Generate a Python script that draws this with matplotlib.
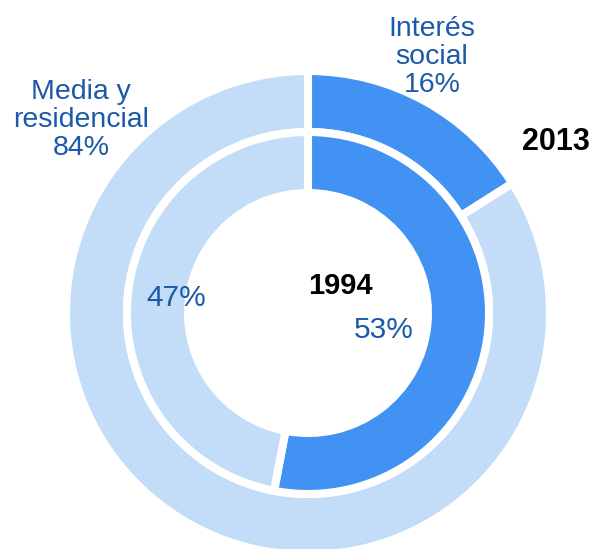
import matplotlib.pyplot as plt

plt.rcParams['font.family'] = ['Liberation Sans', 'DejaVu Sans']

# data
categories = ["Interés social", "Media y residencial"]
share_2013 = [16, 84]
share_1994 = [53, 47]
years = ["2013", "1994"]

dark = "#4192F2"
light = "#C3DCF8"
txt = "#1C59A8"

W, H = 593, 549
fig = plt.figure(figsize=(W / 100, H / 100), dpi=100)
ax = fig.add_axes([0, 0, 1, 1])

# work in pixel units, y measured from the bottom
cx, cy = 308, H - 313
edge = dict(edgecolor="white", linewidth=5.8)

# outer ring: 2013
ax.pie(share_2013, colors=[dark, light], startangle=90, counterclock=False,
       radius=242, center=(cx, cy), wedgeprops=dict(width=61, **edge))
# inner ring: 1994
ax.pie(share_1994, colors=[dark, light], startangle=90, counterclock=False,
       radius=181, center=(cx, cy), wedgeprops=dict(width=61, **edge))

ax.set_xlim(0, W)
ax.set_ylim(0, H)
ax.set_aspect("auto")
ax.axis("off")

# outer labels
ax.text(432, H - 57, "Interés\nsocial\n%d%%" % share_2013[0], ha="center", va="center",
        fontsize=20.5, color=txt, linespacing=1.1)
ax.text(81, H - 120, "Media y\nresidencial\n%d%%" % share_2013[1], ha="center", va="center",
        fontsize=20.5, color=txt, linespacing=1.1)
ax.text(556, H - 142, years[0], ha="center", va="center", fontsize=22,
        fontweight="bold", color="black")

# inner labels
ax.text(384, H - 330, "%d%%" % share_1994[0], ha="center", va="center", fontsize=21.5, color=txt)
ax.text(176, H - 298, "%d%%" % share_1994[1], ha="center", va="center", fontsize=21.5, color=txt)
ax.text(340, H - 286, years[1], ha="center", va="center", fontsize=21,
        fontweight="bold", color="black")

fig.savefig("out.png", dpi=100)
